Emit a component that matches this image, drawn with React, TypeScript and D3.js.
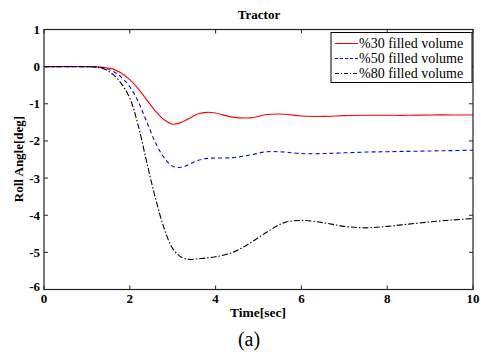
import React from "react";
import * as d3 from "d3";

const timeSec = [0, 1, 1.2, 1.4, 1.6, 1.8, 2.0, 2.2, 2.4, 2.6, 2.8, 3.0, 3.2, 3.4, 3.6, 3.8, 4.0, 4.4, 4.8, 5.2, 5.6, 6.0, 6.5, 7, 7.5, 8, 8.5, 9, 9.5, 10];
const fill30 = [0, 0, -0.005, -0.02, -0.06, -0.17, -0.35, -0.6, -0.9, -1.2, -1.43, -1.55, -1.5, -1.38, -1.27, -1.23, -1.25, -1.36, -1.38, -1.29, -1.28, -1.33, -1.34, -1.32, -1.31, -1.31, -1.31, -1.3, -1.3, -1.3];
const fill50 = [0, 0, -0.008, -0.04, -0.12, -0.28, -0.54, -0.95, -1.5, -2.05, -2.45, -2.68, -2.71, -2.62, -2.52, -2.47, -2.46, -2.45, -2.38, -2.29, -2.3, -2.34, -2.34, -2.32, -2.3, -2.29, -2.28, -2.27, -2.26, -2.25];
const fill80 = [0, 0, -0.01, -0.06, -0.2, -0.45, -0.85, -1.6, -2.6, -3.55, -4.35, -4.9, -5.13, -5.19, -5.17, -5.15, -5.12, -5.0, -4.75, -4.45, -4.2, -4.14, -4.2, -4.3, -4.34, -4.3, -4.24, -4.18, -4.13, -4.09];
const seriesLabels = ["%30 filled volume", "%50 filled volume", "%80 filled volume"];
const xTicks = [0, 2, 4, 6, 8, 10];
const yTicks = [1, 0, -1, -2, -3, -4, -5, -6];

export default function App() {
  const W = 481, H = 352;
  const L = 44, R = 473, T = 29.5, B = 289.5;
  const x = d3.scaleLinear().domain([0, 10]).range([L, R]);
  const y = d3.scaleLinear().domain([-6, 1]).range([B, T]);
  const line = d3.line<number>().x((_, i) => x(timeSec[i])).y((d) => y(d)).curve(d3.curveCatmullRom.alpha(0.5));
  const styles = [
    { color: "#ff0000", dash: undefined },
    { color: "#0000ff", dash: "4,3" },
    { color: "#000000", dash: "6,2,1.5,2" },
  ];
  const data = [fill30, fill50, fill80];
  const font = "'Liberation Serif', 'Times New Roman', serif";
  const axisColor = "#222";
  return (
    <svg width={W} height={H} style={{ position: "absolute", left: 0, top: 0, background: "#fff" }} fontFamily={font}>
      <rect x={0} y={0} width={W} height={H} fill="#fff" />
      <defs>
        <clipPath id="plotclip"><rect x={L} y={T} width={R - L} height={B - T} /></clipPath>
      </defs>
      <g clipPath="url(#plotclip)">
        {data.map((d, i) => (
          <path key={i} d={line(d) || ""} fill="none" stroke={styles[i].color} strokeWidth={1.1} strokeDasharray={styles[i].dash} />
        ))}
      </g>
      <rect x={L} y={T} width={R - L} height={B - T} fill="none" stroke={axisColor} strokeWidth={1.2} />
      {xTicks.map((t) => (
        <g key={"x" + t}>
          <line x1={x(t)} x2={x(t)} y1={B} y2={B - 4} stroke={axisColor} />
          <line x1={x(t)} x2={x(t)} y1={T} y2={T + 4} stroke={axisColor} />
          <text x={x(t)} y={B + 13.5} textAnchor="middle" fontSize={13} fontWeight="bold">{t}</text>
        </g>
      ))}
      {yTicks.map((t) => (
        <g key={"y" + t}>
          <line x1={L} x2={L + 4} y1={y(t)} y2={y(t)} stroke={axisColor} />
          <line x1={R} x2={R - 4} y1={y(t)} y2={y(t)} stroke={axisColor} />
          <text x={L - 4} y={y(t) + (t === -6 ? 1 : 4.5)} textAnchor="end" fontSize={13} fontWeight="bold">{t}</text>
        </g>
      ))}
      <text x={259} y={19} textAnchor="middle" fontSize={13} fontWeight="bold">Tractor</text>
      <text x={258} y={317} textAnchor="middle" fontSize={13.5} fontWeight="bold">Time[sec]</text>
      <text transform={`translate(22.5,159) rotate(-90)`} textAnchor="middle" fontSize={13} fontWeight="bold">Roll Angle[deg]</text>
      <text x={249} y={346} textAnchor="middle" fontSize={20}>(a)</text>
      <g>
        <rect x={331} y={32.5} width={141} height={50} fill="#fff" stroke="#000" strokeWidth={1} />
        {seriesLabels.map((s, i) => (
          <g key={s}>
            <line x1={335} x2={358} y1={43.5 + i * 15} y2={43.5 + i * 15} stroke={styles[i].color} strokeWidth={1} strokeDasharray={i === 1 ? "3,2" : i === 2 ? "4,2,1,2" : undefined} />
            <text x={359} y={48 + i * 15} fontSize={14}>{s}</text>
          </g>
        ))}
      </g>
    </svg>
  );
}
